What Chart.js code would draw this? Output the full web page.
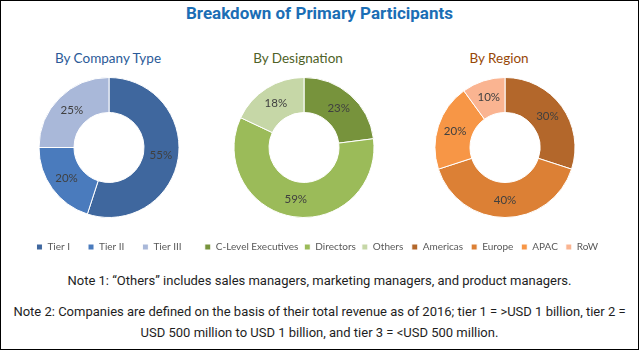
<!DOCTYPE html>
<html>
<head>
<meta charset="utf-8">
<script src="https://cdn.jsdelivr.net/npm/chart.js@4.4.1/dist/chart.umd.min.js"></script>
<style>
  body { margin: 0; background: #fff; }
  #frame { position: relative; width: 639px; height: 350px; box-sizing: border-box; border: 1px solid #000; overflow: hidden; background: #fff; }
  .txt { position: absolute; left: 0; width: 100%; text-align: center; white-space: nowrap; line-height: 1; }
  #title { top: 2px; font: bold 17px Roboto, "Liberation Sans", sans-serif; color: #1b6eb5; }
  .sub { position: absolute; top: 51px; font: 13.5px Lato, sans-serif; white-space: nowrap; transform: translateX(-50%); line-height: 1; }
  .note { font: 13px "Liberation Sans Narrow", "Roboto", sans-serif; color: #1e1e1e; }
  canvas { position: absolute; }
</style>
</head>
<body>
<div id="frame">
  <div id="title" class="txt">Breakdown of Primary Participants</div>
  <div class="sub" style="left:107px;color:#2a5a98;">By Company Type</div>
  <div class="sub" style="left:297px;color:#4f6228;">By Designation</div>
  <div class="sub" style="left:498px;color:#984807;">By Region</div>

  <canvas id="companyChart" width="216" height="212" style="left:0px;top:50px;"></canvas>
  <canvas id="designationChart" width="240" height="212" style="left:183px;top:50px;"></canvas>
  <canvas id="regionChart" width="240" height="212" style="left:384px;top:50px;"></canvas>

  <div class="txt note" style="top:272px;">Note 1: “Others” includes sales managers, marketing managers, and product managers.</div>
  <div class="txt note" style="top:303px;">Note 2: Companies are defined on the basis of their total revenue as of 2016; tier 1 = &gt;USD 1 billion, tier 2 =</div>
  <div class="txt note" style="top:324px;">USD 500 million to USD 1 billion, and tier 3 = &lt;USD 500 million.</div>
</div>

<script>
// values (percent shares)
const companyLabels = ['Tier I', 'Tier II', 'Tier III'];
const companyValues = [55, 20, 25];

const designationLabels = ['C-Level Executives', 'Directors', 'Others'];
const designationValues = [23, 59, 18];

const regionLabels = ['Americas', 'Europe', 'APAC', 'RoW'];
const regionValues = [30, 40, 20, 10];

const companyColors = ['#3f679e', '#4a7bbd', '#a9b8d9'];
const designationColors = ['#77933c', '#9bbb59', '#c6d7a7'];
const regionColors = ['#b3672b', '#dc8035', '#f79646', '#fab491'];

// write the percentage in the middle of each slice
const pctLabels = {
    id: 'pctLabels',
    afterDatasetsDraw(chart) {
        let ctx = chart.ctx;
        let meta = chart.getDatasetMeta(0);
        let values = chart.data.datasets[0].data;
        ctx.save();
        ctx.font = '11.5px Lato, sans-serif';
        ctx.fillStyle = '#404040';
        ctx.textAlign = 'center';
        ctx.textBaseline = 'middle';
        meta.data.forEach((arc, i) => {
            let p = arc.tooltipPosition();
            ctx.fillText(values[i] + '%', p.x, p.y);
        });
        ctx.restore();
    }
};

function makeDonut(id, labels, values, colors, legendPad, padTop) {
    let ctx = document.getElementById(id).getContext('2d');
    return new Chart(ctx, {
        type: 'doughnut',
        data: {
            labels: labels,
            datasets: [{
                data: values,
                backgroundColor: colors,
                borderColor: '#ffffff',
                borderWidth: 1,
                radius: 70,
                cutout: '50%'
            }]
        },
        options: {
            responsive: false,
            animation: false,
            devicePixelRatio: 1,
            layout: { padding: { top: padTop, bottom: 1, left: 0, right: 0 } },
            plugins: {
                tooltip: { enabled: false },
                legend: {
                    position: 'bottom',
                    labels: {
                        boxWidth: 6,
                        boxHeight: 6,
                        padding: legendPad,
                        color: '#595959',
                        font: { family: 'Lato, sans-serif', size: 10 }
                    }
                }
            }
        },
        plugins: [pctLabels]
    });
}

makeDonut('companyChart', companyLabels, companyValues, companyColors, 18, 20);
makeDonut('designationChart', designationLabels, designationValues, designationColors, 6, 8);
makeDonut('regionChart', regionLabels, regionValues, regionColors, 8, 10);
</script>
</body>
</html>
